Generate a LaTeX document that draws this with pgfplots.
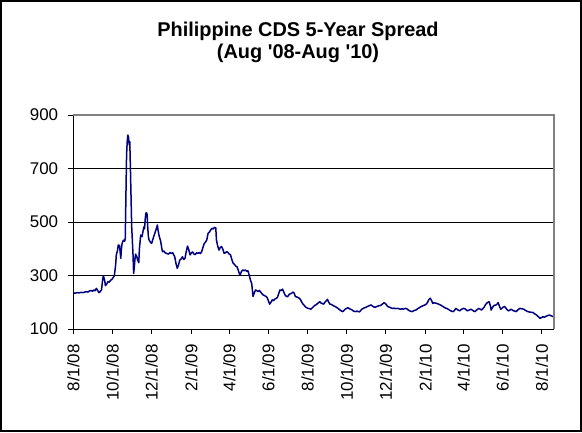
\documentclass[border=0pt]{standalone}
\usepackage{fontspec}
\setmainfont{Liberation Sans}
\usepackage{pgfplots}
\pgfplotsset{compat=1.18}
\definecolor{spread}{RGB}{0,0,128}
\definecolor{frame}{RGB}{128,128,128}

% Daily 5-year CDS spread (bp); x = days since 1 Aug 2008
\begin{document}
\begin{tikzpicture}[x=1bp,y=1bp]
\useasboundingbox (0,0) rectangle (582,432);
\draw[black, line width=1.2bp] (1,1) rectangle (581,431);
\node[font=\bfseries\fontsize{20}{22}\selectfont, align=center] at (298,390)
  {Philippine CDS 5-Year Spread\\(Aug \textquotesingle08-Aug \textquotesingle10)};
\begin{axis}[
  at={(73.3bp,103bp)}, anchor=south west,
  scale only axis, width=480.7bp, height=214bp,
  xmin=0, xmax=749, ymin=100, ymax=900,
  axis lines*=left,
  axis line style={black, line width=1bp},
  ytick={100,300,500,700,900},
  xtick={0,61,122,184,243,304,365,426,487,549,608,669,730},
  xticklabels={8/1/08,10/1/08,12/1/08,2/1/09,4/1/09,6/1/09,8/1/09,10/1/09,12/1/09,2/1/10,4/1/10,6/1/10,8/1/10},
  tick align=outside, major tick length=5bp,
  tick style={black, line width=1bp},
  ymajorgrids, grid style={black, line width=0.9bp},
  /pgf/number format/assume math mode=true,
  /pgf/number format/1000 sep={},
  tick label style={font=\fontsize{17}{20}\selectfont, text=black},
  xticklabel style={rotate=90, anchor=east, inner sep=0bp, xshift=-10bp},
  yticklabel style={anchor=east, inner sep=0bp, xshift=-10bp},
  clip=false,
]
\addplot[spread, line width=1.5bp, line join=round, no markers] coordinates {
(0,235) (3,234) (6,236) (9,235) (12,237) (15,236) (18,238) (20,240) (23,238)
(25,242) (28,244) (30,241) (32,246) (34,243) (36,252) (38,244) (40,236) (42,240)
(44,247) (46,290) (47,298) (49,280) (50,262) (52,268) (54,277) (56,275) (58,282)
(60,285) (62,292) (64,300) (66,340) (67,377) (69,395) (70,414) (72,412) (74,364)
(75,400) (76,420) (78,432) (80,428) (81,440) (82,600) (83,750) (84,800) (85,825)
(86,818) (87,790) (88,800) (89,700) (90,590) (91,482) (93,380) (94,308) (95,330)
(96,360) (97,380) (99,370) (100,360) (102,348) (103,400) (105,451) (107,445)
(108,457) (109,470) (110,482) (111,475) (112,510) (113,532) (114,535) (115,528)
(116,480) (117,445) (118,433) (120,425) (122,420) (124,435) (126,451) (128,465)
(130,480) (131,489) (132,470) (134,445) (136,430) (138,400) (139,389) (141,392)
(143,385) (145,383) (148,380) (151,386) (153,382) (155,385) (157,375) (158,370)
(160,345) (162,327) (164,340) (166,358) (168,362) (170,370) (172,360) (174,364)
(176,390) (178,410) (180,395) (182,377) (184,385) (186,388) (188,380) (190,378)
(192,385) (194,383) (196,386) (198,382) (200,389) (202,405) (204,420) (206,425)
(208,433) (210,458) (212,462) (214,470) (216,476) (218,474) (220,480) (222,478)
(223,433) (225,410) (227,395) (229,405) (231,408) (233,398) (235,383) (237,385)
(239,389) (241,386) (243,380) (245,377) (247,360) (249,346) (251,342) (253,335)
(255,333) (257,320) (259,305) (260,302) (262,315) (264,321) (266,318) (268,321)
(270,316) (272,318) (274,302) (276,283) (278,270) (280,222) (282,235) (284,246)
(286,243) (288,240) (290,244) (292,238) (294,232) (296,227) (298,225) (300,222)
(302,218) (304,205) (306,193) (308,200) (310,209) (312,206) (314,212) (316,214)
(318,218) (320,232) (322,246) (324,244) (326,249) (328,238) (330,227) (332,222)
(334,221) (336,228) (338,232) (340,233) (342,238) (344,235) (346,221) (348,220)
(350,218) (352,215) (354,210) (356,200) (358,193) (360,188) (362,182) (364,179)
(366,177) (368,176) (370,174) (372,178) (374,183) (376,188) (378,190) (380,194)
(382,198) (384,202) (386,197) (388,195) (390,193) (392,200) (394,205) (396,211)
(398,200) (400,193) (402,192) (404,189) (406,186) (408,184) (410,181) (412,178)
(414,174) (416,170) (418,167) (420,165) (422,170) (424,175) (426,177) (428,180)
(430,176) (432,174) (434,172) (436,168) (438,166) (440,165) (442,167) (444,165)
(446,164) (448,170) (450,175) (452,177) (454,180) (456,181) (458,184) (460,186)
(462,188) (464,190) (466,186) (468,183) (470,181) (472,183) (474,185) (476,187)
(478,187) (480,190) (482,194) (484,198) (486,196) (488,190) (490,184) (492,182)
(494,180) (496,178) (498,177) (500,178) (502,176) (504,177) (506,177) (508,175)
(510,174) (512,176) (514,174) (516,176) (518,177) (520,175) (522,171) (524,168)
(526,166) (528,165) (530,168) (532,170) (534,171) (536,175) (538,178) (540,181)
(542,184) (544,186) (546,188) (548,190) (550,193) (552,200) (554,210) (556,215)
(558,208) (560,196) (562,198) (564,197) (566,196) (568,194) (570,192) (572,190)
(574,187) (576,184) (578,181) (580,178) (582,177) (584,174) (586,171) (588,168)
(590,166) (592,165) (594,170) (596,177) (598,174) (600,170) (602,168) (604,172)
(606,175) (608,177) (610,176) (612,172) (614,168) (616,170) (618,172) (620,174)
(622,170) (624,167) (626,165) (628,170) (630,174) (632,177) (634,174) (636,171)
(638,176) (640,181) (642,190) (644,196) (646,200) (648,202) (650,185) (651,171)
(653,180) (655,187) (657,189) (659,190) (661,195) (662,199) (664,185) (666,174)
(668,178) (670,182) (672,184) (674,178) (676,172) (678,168) (680,170) (682,174)
(684,171) (686,168) (688,167) (690,165) (692,170) (694,174) (696,177) (698,176)
(700,175) (702,174) (704,170) (706,168) (708,165) (710,164) (712,163) (714,162)
(716,162) (718,158) (720,155) (722,152) (724,147) (726,143) (727,140) (729,142)
(731,145) (732,146) (734,144) (736,147) (738,149) (740,151) (742,152) (744,150)
(746,148) (748,146) (749,147)
};
% plot-area border on the top and right sides
\draw[frame, line width=1.5bp] (rel axis cs:0,1) -- (rel axis cs:1,1) -- (rel axis cs:1,0);
\end{axis}
\end{tikzpicture}
\end{document}
